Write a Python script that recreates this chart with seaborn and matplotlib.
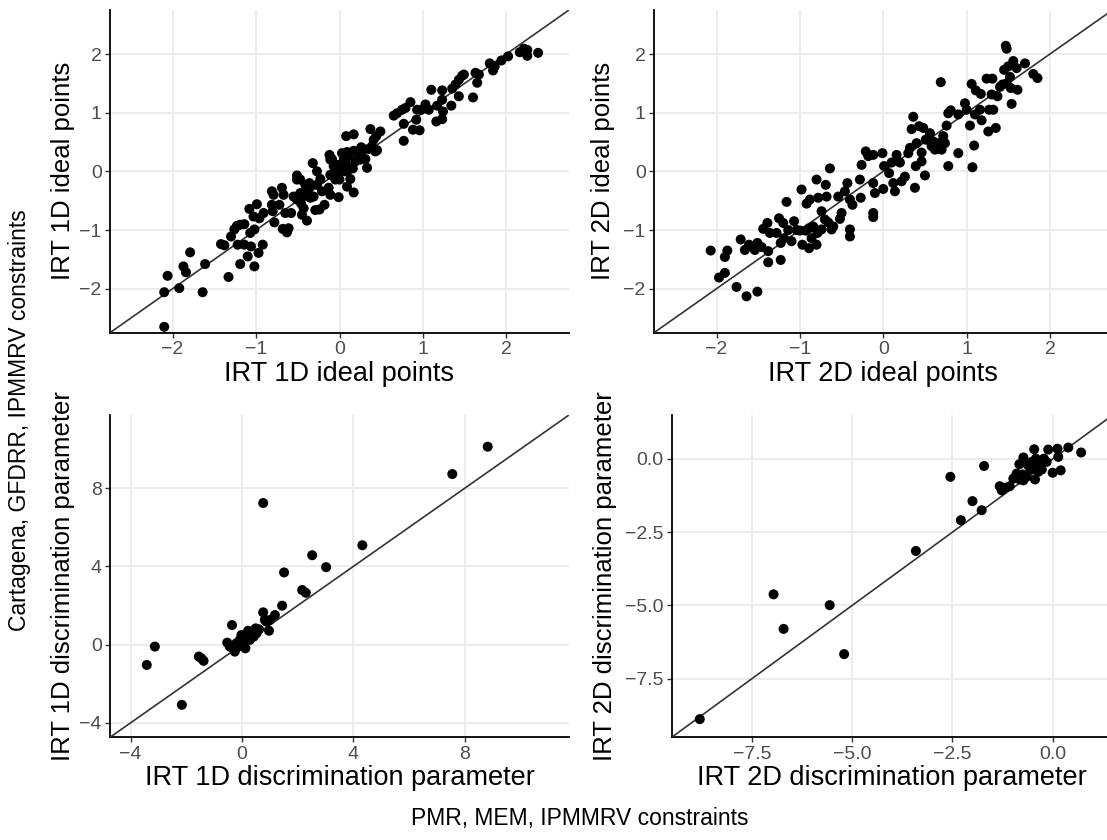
import numpy as np
import pandas as pd
import matplotlib
matplotlib.use("Agg")
import matplotlib.pyplot as plt
import seaborn as sns

# ---------------- data ----------------
# Panel 1: IRT 1D ideal points (x: PMR/MEM/IPMMRV, y: Cartagena/GFDRR/IPMMRV)
ip1_x = [-2.10, -2.10, -2.06, -1.92, -1.87, -1.84, -1.79, -1.64, -1.61, -1.33,
         -1.42, -1.38, -1.30, -1.26, -1.23, -1.19, -1.14, -1.22, -1.19, -1.14,
         -1.10, -1.06, -1.02, -0.97, -0.92, -1.07, -1.02, -1.08, -0.99, -1.03,
         -0.96, -0.91, -0.78, -0.80, -0.81, -0.81, -0.79, -0.72, -0.69, -0.67,
         -0.65, -0.68, -0.63, -0.61, -0.58, -0.55, -0.51, -0.47, -0.46, -0.43,
         -0.45, -0.39, -0.51, -0.47, -0.41, -0.37, -0.35, -0.32, -0.27, -0.23,
         -0.31, -0.29, -0.24, -0.18, -0.21, -0.13, -0.11, -0.11, -0.12, -0.09,
         -0.03, -0.01, 0.00, -0.01, 0.03, 0.07, 0.11, 0.13, 0.09, 0.17,
         0.08, 0.17, 0.19, 0.23, 0.26, 0.29, 0.31, 0.33, 0.37, 0.35,
         0.39, 0.41, 0.44, 0.49, 0.43, 0.45, 0.65, 0.69, 0.75, 0.79,
         0.85, 0.77, 0.77, 0.88, 0.92, 0.96, 0.93, 0.98, 1.03, 1.07,
         1.10, 1.16, 1.23, 1.24, 1.17, 1.23, 1.23, 1.34, 1.35, 1.39,
         1.43, 1.43, 1.47, 1.49, 1.60, 1.63, 1.65, 1.67, 1.80, 1.84,
         1.86, 1.94, 2.02, 2.16, 2.21, 2.25, 2.25, 2.38,
         -0.51, -0.47, -0.43, -0.39, -0.36, -0.27, -0.07, 0.01, 0.05, 0.11,
         -0.11, -0.05, 0.07, 0.16, 0.09, 0.25, 0.17]
ip1_y = [-2.65, -2.06, -1.78, -1.99, -1.62, -1.72, -1.38, -2.06, -1.58, -1.80,
         -1.24, -1.26, -1.11, -0.99, -0.93, -0.91, -0.90, -1.25, -1.58, -1.25,
         -1.45, -1.28, -1.62, -1.39, -1.25, -1.05, -0.99, -0.64, -0.56, -0.77,
         -0.80, -0.71, -0.87, -0.68, -0.57, -0.34, -0.40, -0.57, -0.28, -0.40,
         -0.71, -0.98, -1.04, -0.97, -0.71, -0.43, -0.48, -0.37, -0.55, -0.63,
         -0.74, -0.84, -0.07, -0.14, -0.23, -0.31, -0.45, 0.14, 0.00, -0.13,
         -0.43, -0.66, -0.65, -0.57, -0.34, -0.28, -0.40, -0.06, 0.28, 0.21,
         0.11, -0.03, -0.14, -0.44, 0.31, 0.15, 0.03, -0.13, -0.26, -0.36,
         0.60, 0.63, 0.17, 0.26, 0.41, 0.38, 0.21, 0.06, 0.72, 0.38,
         0.43, 0.54, 0.60, 0.68, 0.34, 0.36, 0.95, 0.99, 1.05, 1.08,
         1.18, 0.81, 0.52, 0.71, 0.88, 0.70, 1.05, 1.05, 1.14, 1.05,
         1.39, 0.85, 0.89, 1.02, 1.12, 1.22, 1.38, 1.12, 1.41, 1.48,
         1.28, 1.56, 1.63, 1.65, 1.26, 1.68, 1.51, 1.65, 1.84, 1.72,
         1.79, 1.89, 1.96, 2.03, 2.09, 1.97, 2.07, 2.02,
         -0.14, -0.48, -0.42, -0.36, -0.20, -0.23, 0.09, 0.09, 0.20, 0.26,
         0.20, -0.14, 0.00, 0.05, 0.33, 0.20, 0.35]

# Panel 2: IRT 2D ideal points
ip2_x = [-2.07, -1.97, -1.90, -1.90, -1.87, -1.76, -1.64, -1.51, -1.71, -1.66,
         -1.61, -1.54, -1.51, -1.46, -1.38, -1.38, -1.23, -1.44, -1.39, -1.36,
         -1.28, -1.25, -1.23, -1.20, -1.19, -1.16, -1.14, -1.10, -1.07, -1.04,
         -1.00, -0.97, -0.93, -0.89, -0.89, -0.86, -0.84, -0.80, -0.79, -0.74,
         -0.74, -0.70, -0.66, -0.62, -0.60, -0.92, -0.88, -0.78, -0.68, -0.80,
         -0.69, -0.98, -0.64, -0.54, -0.50, -0.52, -0.46, -0.43, -0.40, -0.37,
         -0.40, -0.40, -0.27, -0.28, -0.26, -0.21, -0.18, -0.12, -0.12, -0.10,
         -0.12, -0.12, -0.01, 0.01, 0.00, 0.07, 0.10, 0.12, 0.14, 0.16,
         0.20, 0.22, 0.26, 0.30, 0.32, 0.36, 0.34, 0.38, 0.39, 0.40,
         0.43, 0.46, 0.46, 0.48, 0.50, 0.51, 0.56, 0.58, 0.60, 0.62,
         0.66, 0.70, 0.69, 0.72, 0.74, 0.76, 0.78, 0.78, 0.81, 0.90,
         0.90, 0.98, 1.00, 1.04, 1.06, 1.07, 1.09, 1.10, 1.11, 1.16,
         1.17, 1.18, 1.24, 1.26, 1.27, 1.30, 1.31, 1.32, 1.35, 1.37,
         1.40, 1.43, 1.45, 1.47, 1.48, 1.48, 1.50, 1.52, 1.53, 1.54,
         1.56, 1.60, 1.61, 1.70, 1.80, 1.85]
ip2_y = [-1.35, -1.81, -1.73, -1.46, -1.35, -1.97, -2.13, -2.05, -1.16, -1.34,
         -1.25, -1.34, -1.22, -1.29, -1.36, -1.55, -1.51, -0.98, -0.88, -1.05,
         -1.05, -0.80, -1.22, -0.88, -1.14, -0.52, -1.00, -1.19, -0.85, -1.00,
         -1.01, -1.25, -1.01, -1.31, -0.97, -1.14, -0.94, -1.25, -1.05, -0.99,
         -0.68, -0.82, -0.87, -0.99, -0.94, -0.55, -0.48, -0.45, -0.43, -0.14,
         -0.23, -0.31, 0.05, -0.43, -0.71, -0.81, -0.34, -0.20, -0.48, -0.57,
         -0.99, -1.11, -0.45, -0.14, 0.11, 0.34, 0.26, 0.28, -0.20, -0.37,
         -0.71, -0.78, 0.31, 0.09, -0.30, -0.03, 0.15, -0.20, -0.34, 0.28,
         0.15, -0.17, -0.09, 0.31, 0.40, 0.93, 0.72, -0.28, 0.09, 0.48,
         0.77, 0.17, 0.32, 0.74, -0.07, 0.54, 0.65, 0.43, 0.51, 0.37,
         0.48, 0.37, 1.52, 0.60, 0.48, 0.78, 0.99, 0.09, 1.04, 0.97,
         0.31, 1.16, 1.05, 0.78, 1.49, 0.07, 0.44, 0.97, 1.38, 1.05,
         1.32, 0.87, 1.58, 0.68, 1.05, 1.31, 1.58, 1.05, 0.74, 1.28,
         1.44, 1.48, 1.73, 2.14, 2.09, 1.50, 1.79, 1.61, 1.42, 1.15,
         1.88, 1.76, 1.39, 1.84, 1.66, 1.59]

# Panel 3: IRT 1D discrimination parameter
d1_x = [-3.42, -3.13, -2.16, -1.55, -1.46, -1.38, -0.53, -0.36, -0.44, -0.26,
        -0.20, -0.08, -0.02, 0.04, 0.12, 0.16, 0.22, 0.28, 0.34, 0.42,
        0.49, 0.61, 0.76, 0.76, 0.82, 0.97, 1.00, 1.18, 1.44, 1.51,
        2.16, 2.29, 2.52, 3.02, 4.32, 7.55, 8.82,
        0.06, -0.14, -0.32, 0.52, 0.88]
d1_y = [-1.04, -0.10, -3.08, -0.61, -0.70, -0.83, 0.10, 1.00, -0.10, -0.36,
        0.07, 0.24, 0.49, -0.02, -0.19, 0.41, 0.71, 0.24, 0.58, 0.41,
        0.83, 0.78, 1.65, 7.24, 1.26, 0.71, 1.26, 1.51, 1.99, 3.69,
        2.79, 2.65, 4.57, 3.96, 5.08, 8.72, 10.12,
        0.15, -0.10, -0.19, 0.58, 1.17]

# Panel 4: IRT 2D discrimination parameter
d2_x = [-8.80, -6.96, -6.71, -5.56, -5.20, -3.41, -2.55, -2.29, -2.00, -1.77,
        -1.71, -1.32, -1.27, -1.19, -1.07, -0.98, -0.90, -0.83, -0.82, -0.75,
        -0.73, -0.65, -0.61, -0.55, -0.46, -0.44, -0.42, -0.40, -0.33, -0.27,
        -0.22, -0.15, -0.11, 0.00, 0.12, 0.14, 0.20, 0.39, 0.71,
        -0.52, -0.36, -0.73]
d2_y = [-8.88, -4.62, -5.80, -4.99, -6.66, -3.14, -0.61, -2.09, -1.44, -1.75,
        -0.24, -0.93, -1.07, -0.98, -0.93, -0.67, -0.50, -0.18, -0.70, -0.53,
        0.05, -0.61, -0.22, -0.36, 0.33, -0.70, 0.01, -0.30, -0.16, -0.36,
        0.01, -0.10, 0.32, -0.47, 0.35, 0.07, -0.39, 0.39, 0.22,
        -0.10, -0.44, -0.73]

x_titles = ["IRT 1D ideal points", "IRT 2D ideal points",
            "IRT 1D discrimination parameter", "IRT 2D discrimination parameter"]
outer_x_label = "PMR, MEM, IPMMRV constraints"
outer_y_label = "Cartagena, GFDRR, IPMMRV constraints"

ticks_ideal = [-2, -1, 0, 1, 2]
ticks_d1 = [-4, 0, 4, 8]
ticks_d2 = [-7.5, -5.0, -2.5, 0.0]

# ---------------- styling ----------------
sns.set_theme(style="white")
plt.rcParams['font.family'] = ['Liberation Sans', 'DejaVu Sans']

W, H = 1107, 840
fig = plt.figure(figsize=(W / 100, H / 100), dpi=100)


def add_ax(left, right, top, bottom):
    return fig.add_axes([left / W, 1 - bottom / H, (right - left) / W, (bottom - top) / H])


panels = [
    (add_ax(110, 569, 10, 332.7), ip1_x, ip1_y, (-2.75, 2.75), (-2.75, 2.75), ticks_ideal, ticks_ideal, "{:g}", 3),
    (add_ax(654, 1112.5, 10, 332.7), ip2_x, ip2_y, (-2.75, 2.75), (-2.75, 2.75), ticks_ideal, ticks_ideal, "{:g}", 6),
    (add_ax(110, 569, 415, 737.3), d1_x, d1_y, (-4.74, 11.74), (-4.74, 11.74), ticks_d1, ticks_d1, "{:g}", 3),
    (add_ax(671.7, 1112.8, 415, 737.3), d2_x, d2_y, (-9.5, 1.5), (-9.5, 1.5), ticks_d2, ticks_d2, "{:.1f}", 6),
]

grid_col = "#EBEBEB"
for (ax, xs, ys, xl, yl, xt, yt, fmt, ypad), title in zip(panels, x_titles):
    df = pd.DataFrame({"x": xs, "y": ys})
    ax.axline((0, 0), slope=1, color="#333333", lw=1.2, zorder=3)
    sns.scatterplot(data=df, x="x", y="y", ax=ax, color="black", s=52,
                    edgecolor="none", linewidth=0, zorder=4, clip_on=True)
    ax.set_xlim(*xl)
    ax.set_ylim(*yl)
    ax.set_xticks(xt)
    ax.set_yticks(yt)
    ax.set_xticklabels([fmt.format(v).replace("-", "\u2212") for v in xt])
    ax.set_yticklabels([fmt.format(v).replace("-", "\u2212") for v in yt])
    ax.grid(True, color=grid_col, lw=1.3, zorder=0)
    ax.set_axisbelow(True)
    for s in ["top", "right"]:
        ax.spines[s].set_visible(False)
    for s in ["left", "bottom"]:
        ax.spines[s].set_color("black")
        ax.spines[s].set_linewidth(1.3)
    ax.tick_params(axis="both", which="major", length=3.5, width=1.0, color="#333333",
                   labelcolor="#4D4D4D", labelsize=14, pad=2.5, bottom=True, left=True)
    ax.set_xlabel(title, fontsize=19.5, color="black", labelpad=2)
    ax.set_ylabel(title, fontsize=18.5, color="black", labelpad=ypad)
    ax.set_facecolor("white")

fig.text(580 / W, 1 - 818 / H, outer_x_label, ha="center", va="center", fontsize=16.5, color="black")
fig.text(20 / W, 1 - 420 / H, outer_y_label, ha="center", va="center", rotation=90,
         fontsize=16.5, color="black")

fig.savefig("out.png", dpi=100, facecolor="white")
